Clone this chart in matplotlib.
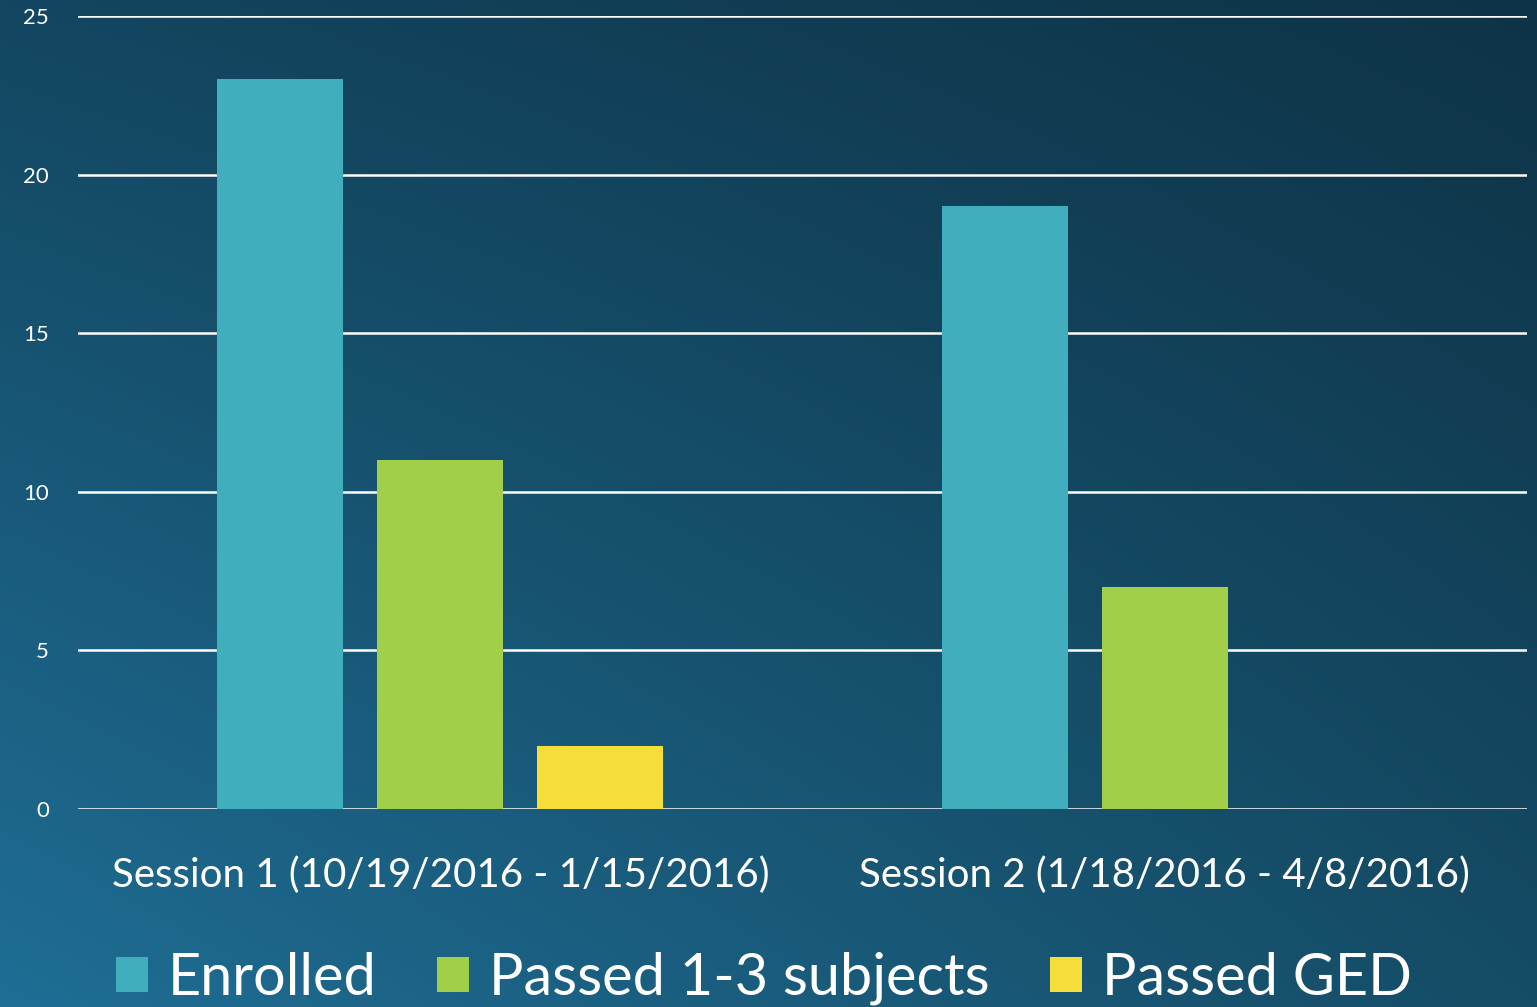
import numpy as np
import matplotlib
matplotlib.use("Agg")
import matplotlib.pyplot as plt

categories = ["Session 1 (10/19/2016 - 1/15/2016)", "Session 2 (1/18/2016 - 4/8/2016)"]
series_names = ["Enrolled", "Passed 1-3 subjects", "Passed GED"]
enrolled = [23, 19]
passed_subjects = [11, 7]
passed_ged = [2, 0]
yticks = [0, 5, 10, 15, 20, 25]

colors = ["#41aebd", "#a2cf4a", "#f5de3a"]

plt.rcParams['font.family'] = ['Lato', 'DejaVu Sans']

fig = plt.figure(figsize=(15.37, 10.07), dpi=100)

# background gradient
bg = fig.add_axes([0, 0, 1, 1], zorder=-10)
h, w = 200, 300
yy, xx = np.mgrid[0:1:h*1j, 0:1:w*1j]  # yy 0 = top
tl = np.array([0x13, 0x46, 0x60]) / 255
tr = np.array([0x0e, 0x33, 0x46]) / 255
bl = np.array([0x1f, 0x6e, 0x95]) / 255
br = np.array([0x15, 0x4c, 0x66]) / 255
img = (tl[None, None, :] * ((1 - xx) * (1 - yy))[..., None]
       + tr[None, None, :] * (xx * (1 - yy))[..., None]
       + bl[None, None, :] * ((1 - xx) * yy)[..., None]
       + br[None, None, :] * (xx * yy)[..., None])
bg.imshow(img, aspect='auto', extent=[0, 1, 0, 1], interpolation='bicubic')
bg.axis('off')

ax = fig.add_axes([78/1537, 1 - 809/1007, (1527-78)/1537, (809-16)/1007])
ax.set_facecolor('none')

x = np.arange(len(categories))
width = 0.174
offset = 0.221
data = [enrolled, passed_subjects, passed_ged]
handles = []
for i, (vals, c, name) in enumerate(zip(data, colors, series_names)):
    b = ax.bar(x + (i - 1) * offset, vals, width, color=c, label=name, zorder=3)
    handles.append(b)

ax.set_xlim(-0.5, 1.5)
ax.set_ylim(0, 25)
ax.set_yticks(yticks)
ax.set_yticklabels([str(v) for v in yticks], color='white', fontsize=16)
ax.yaxis.grid(True, color='white', linewidth=1.8, zorder=1)
ax.set_axisbelow(True)
ax.set_xticks(x)
ax.set_xticklabels(categories, color='white', fontsize=29)
ax.tick_params(axis='x', length=0, pad=34)
ax.tick_params(axis='y', length=0, pad=21)
for s in ax.spines.values():
    s.set_visible(False)

leg = fig.legend(handles=handles, labels=series_names, loc='lower center',
                 bbox_to_anchor=(0.497, -0.05), ncol=3, frameon=False,
                 fontsize=41.5, labelcolor='white', handlelength=0.55,
                 handleheight=0.55, handletextpad=0.35, columnspacing=1.05)

fig.savefig("out.png", dpi=100)
